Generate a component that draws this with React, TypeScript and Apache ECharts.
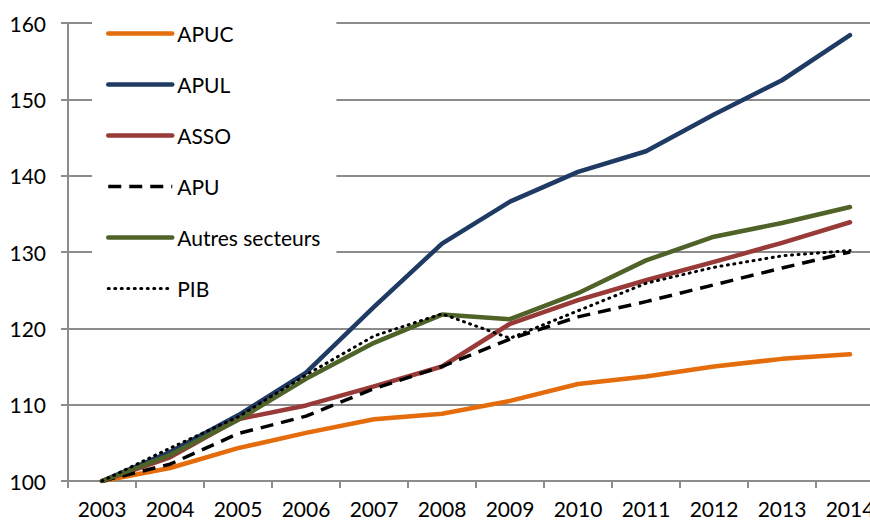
import React, { useEffect, useRef } from "react";
import * as echarts from "echarts";

const years = ["2003", "2004", "2005", "2006", "2007", "2008", "2009", "2010", "2011", "2012", "2013", "2014"];
const apuc = [100, 101.7, 104.3, 106.3, 108.1, 108.8, 110.5, 112.7, 113.7, 115.0, 116.0, 116.6];
const apul = [100, 103.8, 108.6, 114.2, 122.8, 131.1, 136.6, 140.5, 143.2, 148.0, 152.5, 158.4];
const asso = [100, 103.1, 108.1, 109.9, 112.4, 115.0, 120.6, 123.7, 126.3, 128.7, 131.2, 133.9];
const apu = [100, 102.2, 106.2, 108.5, 112.1, 115.0, 118.6, 121.5, 123.5, 125.7, 127.9, 130.0];
const autres = [100, 103.4, 108.0, 113.4, 118.1, 121.8, 121.2, 124.6, 128.9, 132.0, 133.8, 135.9];
const pib = [100, 104.3, 108.4, 113.9, 119.0, 121.9, 118.7, 122.3, 125.9, 128.0, 129.5, 130.2];

const FONT = "Lato, 'Open Sans', sans-serif";
const GRID_COLOR = "#8c8c8c";

export default function App() {
  const ref = useRef<HTMLDivElement>(null);
  useEffect(() => {
    if (!ref.current) return;
    const chart = echarts.init(ref.current, null, { renderer: "svg" });
    const styles: Record<string, any> = {
      APUC: { color: "#e46c0a", width: 4.5, type: "solid", cap: "round" },
      APUL: { color: "#1f3b64", width: 4.5, type: "solid", cap: "round" },
      ASSO: { color: "#973a38", width: 4.5, type: "solid", cap: "round" },
      APU: { color: "#000000", width: 3.5, type: [13, 8], cap: "butt" },
      "Autres secteurs": { color: "#4f6228", width: 4.5, type: "solid", cap: "round" },
      PIB: { color: "#000000", width: 3, type: [1, 5.5], cap: "round" },
    };
    const mk = (name: string, data: number[]) => ({
      name,
      type: "line",
      data,
      symbol: "none",
      showSymbol: false,
      lineStyle: { ...styles[name], join: "round" },
      itemStyle: { color: styles[name].color },
    });
    const names = ["APUC", "APUL", "ASSO", "APU", "Autres secteurs", "PIB"];
    chart.setOption({
      animation: false,
      textStyle: { fontFamily: FONT },
      grid: { left: 68, top: 23, width: 816, height: 458, containLabel: false, outerBoundsMode: "none" },
      legend: {
        orient: "vertical",
        left: 92,
        top: 9,
        padding: [14, 16, 10, 14],
        backgroundColor: "#ffffff",
        itemWidth: 64,
        itemHeight: 20,
        itemGap: 30,
        itemStyle: { opacity: 0 },
        textStyle: { fontFamily: FONT, fontSize: 21, color: "#000", lineHeight: 20 },
        data: names.map((n) => ({
          name: n,
          itemStyle: { opacity: 0 },
          lineStyle: { ...styles[n] },
        })),
      },
      xAxis: {
        type: "category",
        data: years,
        boundaryGap: true,
        axisLine: { show: true, lineStyle: { color: GRID_COLOR, width: 2 } },
        axisTick: { show: true, length: 7, lineStyle: { color: GRID_COLOR, width: 2 } },
        axisLabel: { fontFamily: FONT, fontSize: 21, color: "#000", margin: 17 },
        splitLine: { show: false },
      },
      yAxis: {
        type: "value",
        min: 100,
        max: 160,
        interval: 10,
        axisLine: { show: true, lineStyle: { color: GRID_COLOR, width: 2 } },
        axisTick: { show: true, length: 7, lineStyle: { color: GRID_COLOR, width: 2 } },
        axisLabel: { fontFamily: FONT, fontSize: 21, color: "#000", margin: 22 },
        splitLine: { show: true, lineStyle: { color: GRID_COLOR, width: 2 } },
      },
      series: [
        mk("APUC", apuc),
        mk("APUL", apul),
        mk("ASSO", asso),
        mk("APU", apu),
        mk("Autres secteurs", autres),
        mk("PIB", pib),
      ],
    });
    return () => chart.dispose();
  }, []);
  return <div ref={ref} style={{ position: "fixed", left: 0, top: 0, width: 870, height: 520, background: "#fff" }} />;
}
